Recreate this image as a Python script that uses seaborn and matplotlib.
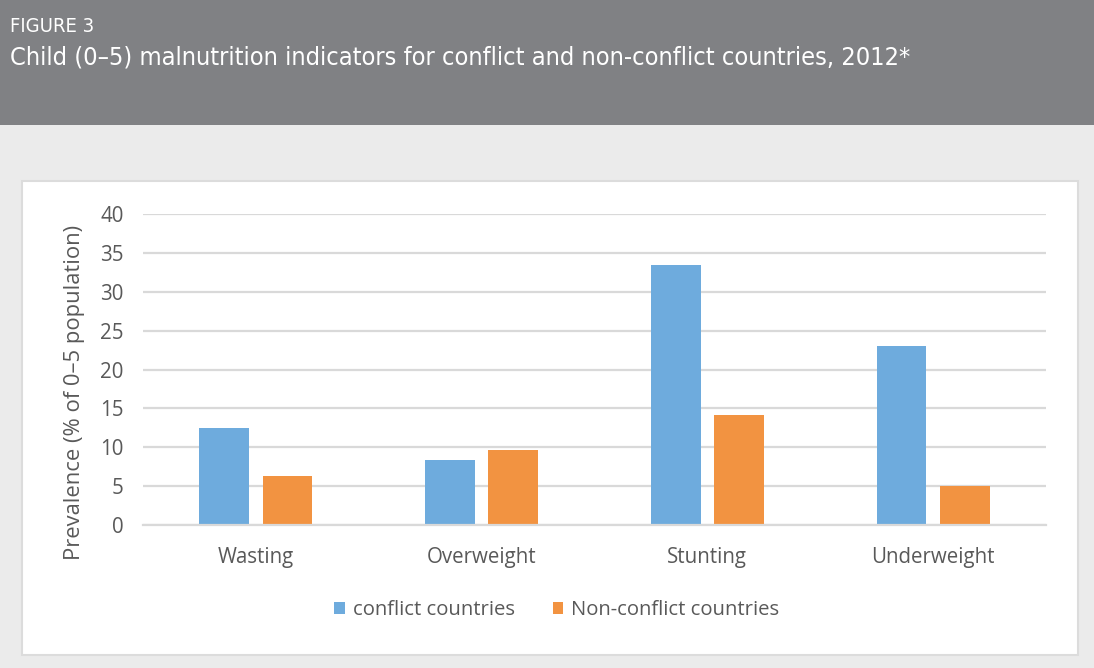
import matplotlib
matplotlib.use("Agg")
import matplotlib.pyplot as plt
from matplotlib.patches import Rectangle
import seaborn as sns
import pandas as pd

categories = ["Wasting", "Overweight", "Stunting", "Underweight"]
series_names = ["conflict countries", "Non-conflict countries"]
conflict = [12.5, 8.3, 33.5, 23.0]
non_conflict = [6.3, 9.6, 14.2, 5.0]
yticks = [0, 5, 10, 15, 20, 25, 30, 35, 40]
colors = ["#6eabdd", "#f29341"]

df = pd.DataFrame({
    "category": categories * 2,
    "group": [series_names[0]] * 4 + [series_names[1]] * 4,
    "value": conflict + non_conflict,
})

sns.set_theme(style="white")
plt.rcParams["font.family"] = ["Open Sans", "DejaVu Sans"]

W, H = 1094, 668
fig = plt.figure(figsize=(W / 100, H / 100), dpi=100)
fig.patch.set_facecolor("#ebebeb")

fig.add_artist(Rectangle((0, 1 - 125 / H), 1, 125 / H, transform=fig.transFigure,
                         facecolor="#808184", edgecolor="none", zorder=0))
fig.add_artist(Rectangle((22 / W, 1 - 655 / H), (1078 - 22) / W, (655 - 181) / H,
                         transform=fig.transFigure, facecolor="white",
                         edgecolor="#dcdcdc", linewidth=1.5, zorder=0))

tfam = ["DejaVu Sans", "Liberation Sans"]
fig.text(10 / W, 1 - 27 / H, "FIGURE 3", family=tfam, fontstretch="condensed",
         fontsize=14.5, color="white", va="center", ha="left")
fig.text(10 / W, 1 - 58 / H,
         "Child (0\u20135) malnutrition indicators for conflict and non-conflict countries, 2012*",
         family=tfam, fontstretch="condensed", fontsize=18.2, color="white",
         va="center", ha="left")

ax = fig.add_axes([143 / W, 1 - 525 / H, (1046 - 143) / W, (525 - 214) / H])
ax.set_facecolor("none")
sns.barplot(data=df, x="category", y="value", hue="group", order=categories,
            hue_order=series_names, palette=colors, width=0.56, gap=0.21,
            saturation=1, ax=ax, edgecolor="none", legend=True)

ax.set_ylim(0, 40)
ax.set_yticks(yticks)
ax.set_yticklabels([str(t) for t in yticks])
ax.set_xlim(-0.5, 3.5)
ax.yaxis.grid(True, color="#d9d9d9", linewidth=1.6)
ax.set_axisbelow(True)
for s in ["top", "right", "left"]:
    ax.spines[s].set_visible(False)
ax.spines["bottom"].set_color("#d9d9d9")
ax.spines["bottom"].set_linewidth(1.6)
ax.tick_params(axis="both", length=0, labelsize=14.8, colors="#595959")
ax.tick_params(axis="y", pad=14)
ax.tick_params(axis="x", pad=16)
ax.set_xlabel("")
ax.set_ylabel("Prevalence (% of 0\u20135 population)", fontsize=15.8, color="#595959",
              va="center")
ax.yaxis.set_label_coords((75 - 143) / 903, (525 - 392) / 311)

leg = ax.legend(loc="center", bbox_to_anchor=(557 / W, 1 - 610 / H),
                bbox_transform=fig.transFigure, ncol=2, frameon=False,
                fontsize=14.6, handlelength=0.5, handleheight=0.5,
                handletextpad=0.4, columnspacing=1.9)
for t in leg.get_texts():
    t.set_color("#595959")

fig.savefig("out.png", dpi=100, facecolor=fig.get_facecolor())
